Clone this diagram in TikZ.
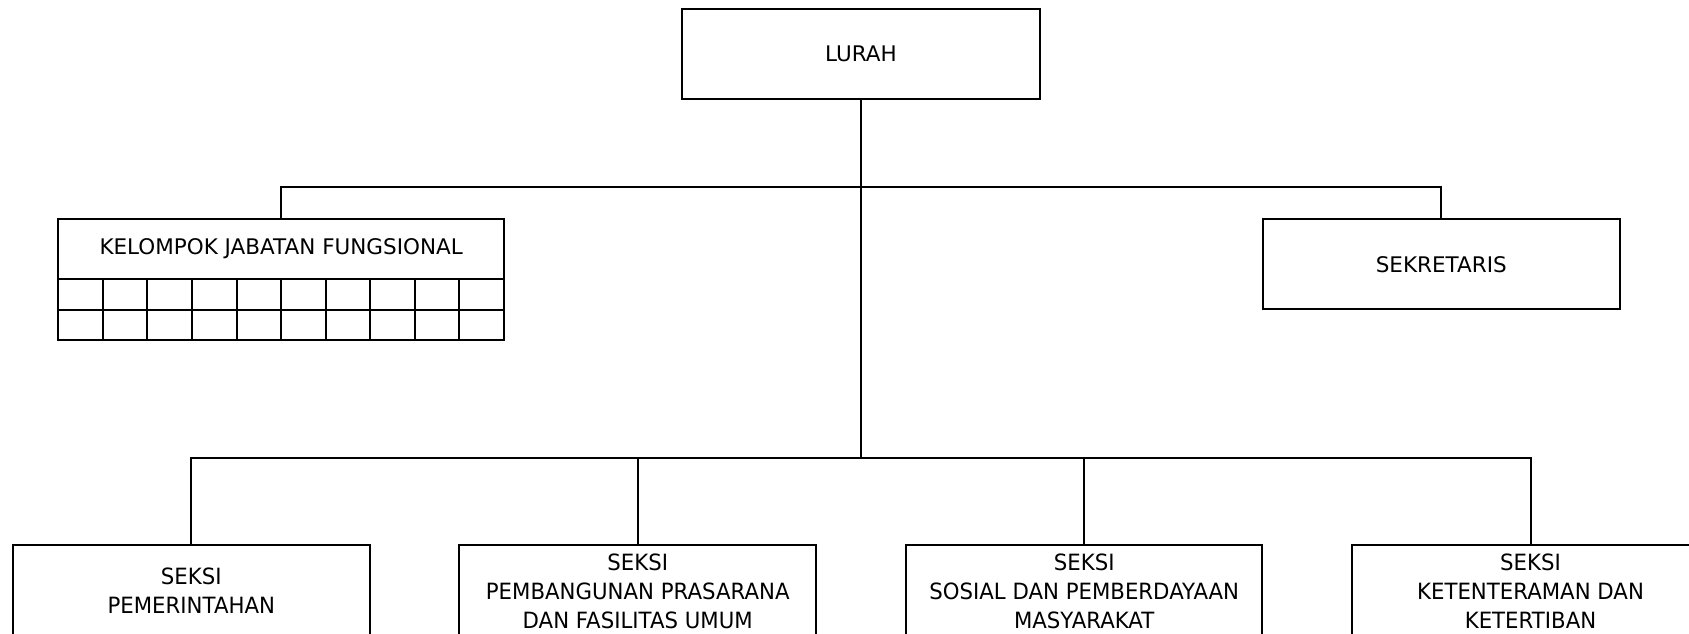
\documentclass[tikz,border=0pt]{standalone}
\usepackage{fontspec}
\setmainfont{DejaVu Sans}
\newfontfamily\botfont[FakeStretch=0.95]{DejaVu Sans}
\begin{document}
\begin{tikzpicture}[x=1pt,y=-1pt,
  box/.style={draw=black,line width=2pt,rectangle,inner sep=0pt,
    font=\fontsize{21.5}{26}\selectfont},
  botbox/.style={draw=black,line width=2pt,rectangle,inner sep=0pt,
    minimum width=356.5pt,minimum height=92pt,align=center,
    font=\botfont\fontsize{22.4}{29}\selectfont},
  cell/.style={draw=black,line width=2pt,rectangle,inner sep=0pt,
    minimum width=44.57pt,minimum height=30.65pt},
  conn/.style={draw=black,line width=2pt}]
\clip (0,0) rectangle (1689,634);
\fill[white] (0,0) rectangle (1689,634);
% top
\node[box,minimum width=358pt,minimum height=90pt] (lurah) at (861,54) {LURAH};
\node[box,minimum width=445.7pt,minimum height=59.4pt] (kjf) at (281.15,249) {KELOMPOK JABATAN FUNGSIONAL};
\node[box,minimum width=357.3pt,minimum height=90.3pt] (sek) at (1441.3,264.2) {SEKRETARIS};
% grid cells
\foreach \i in {0,...,9}{
  \node[cell] (ca\i) at ({58.3+44.57*(\i+0.5)},294.35) {};
  \node[cell] (cb\i) at ({58.3+44.57*(\i+0.5)},325) {};
}
% bottom boxes
\node[botbox] (b1) at (191.3,591) {SEKSI\\PEMERINTAHAN};
\node[botbox] (b2) at (637.7,591) {SEKSI\\PEMBANGUNAN PRASARANA\\DAN FASILITAS UMUM};
\node[botbox] (b3) at (1084.2,591) {SEKSI\\SOSIAL DAN PEMBERDAYAAN\\MASYARAKAT};
\node[botbox] (b4) at (1530.5,591) {SEKSI\\KETENTERAMAN DAN\\KETERTIBAN};
% connectors
\coordinate (tb) at (861,187.4);
\coordinate (bb) at (861,457.8);
\draw[conn] (lurah.south) -- (bb);
\draw[conn] (kjf.north) |- (tb) -| (sek.north);
\draw[conn] (b1.north) |- (bb) -| (b4.north);
\draw[conn] (b2.north) |- (bb);
\draw[conn] (b3.north) |- (bb);
\end{tikzpicture}
\end{document}
